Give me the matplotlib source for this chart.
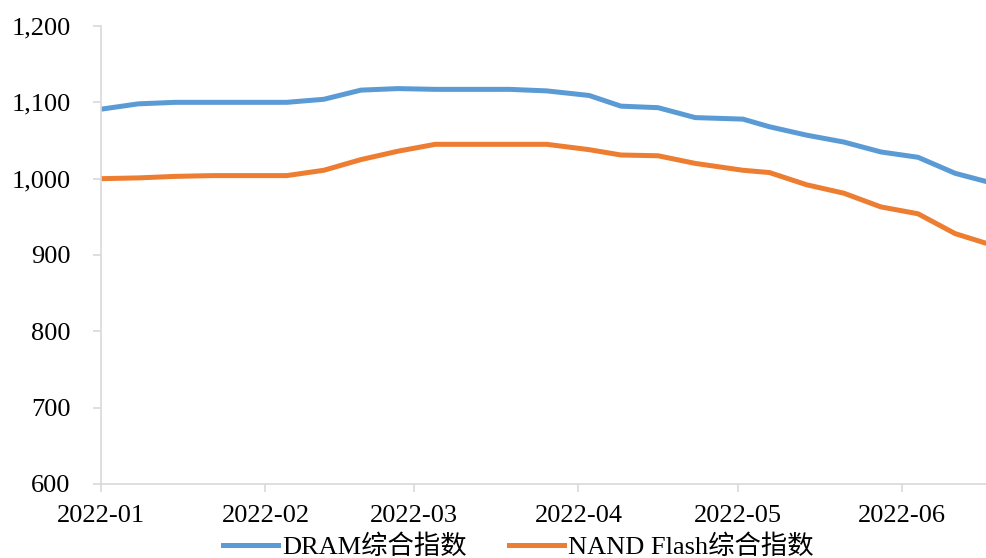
import matplotlib
matplotlib.use("Agg")
import matplotlib.pyplot as plt
from matplotlib.ticker import FuncFormatter
import numpy as np
from datetime import datetime

# weekly index readings
dates = ["2022-01-01", "2022-01-08", "2022-01-15", "2022-01-22", "2022-01-29",
         "2022-02-05", "2022-02-12", "2022-02-19", "2022-02-26", "2022-03-05",
         "2022-03-12", "2022-03-19", "2022-03-26", "2022-04-03", "2022-04-09",
         "2022-04-16", "2022-04-23", "2022-05-02", "2022-05-07", "2022-05-14",
         "2022-05-21", "2022-05-28", "2022-06-04", "2022-06-11", "2022-06-17"]
dram = [1091, 1098, 1100, 1100, 1100, 1100, 1104, 1116, 1118, 1117,
        1117, 1117, 1115, 1109, 1095, 1093, 1080, 1078, 1068, 1057,
        1048, 1035, 1028, 1007, 996]
nand = [1000, 1001, 1003, 1004, 1004, 1004, 1011, 1025, 1036, 1045,
        1045, 1045, 1045, 1038, 1031, 1030, 1020, 1011, 1008, 992,
        981, 963, 954, 928, 915]
series_names = ["DRAM综合指数", "NAND Flash综合指数"]
month_ticks = ["2022-01-01", "2022-02-01", "2022-03-01", "2022-04-01",
               "2022-05-01", "2022-06-01"]
month_labels = ["2022-01", "2022-02", "2022-03", "2022-04", "2022-05", "2022-06"]

x = [datetime.strptime(d, "%Y-%m-%d") for d in dates]
xt = [datetime.strptime(d, "%Y-%m-%d") for d in month_ticks]

plt.rcParams['font.family'] = ['Liberation Serif', 'Noto Sans CJK SC']

fig = plt.figure(figsize=(9.87, 5.58), dpi=100)
ax = fig.add_axes([101/987, 1 - 484/558, 1 - 101/987, (484 - 26)/558])

ax.plot(x, dram, color="#5B9BD5", lw=3.6, solid_joinstyle="round",
        label=series_names[0])
ax.plot(x, nand, color="#ED7D31", lw=3.6, solid_joinstyle="round",
        label=series_names[1])

ax.set_xlim(x[0], x[-1])
ax.set_ylim(600, 1200)
ax.set_yticks(np.arange(600, 1201, 100))
ax.yaxis.set_major_formatter(FuncFormatter(lambda v, p: "{:,.0f}".format(v)))
ax.set_xticks(xt)
ax.set_xticklabels(month_labels)

for s in ["top", "right"]:
    ax.spines[s].set_visible(False)
for s in ["left", "bottom"]:
    ax.spines[s].set_color("#D9D9D9")
    ax.spines[s].set_linewidth(1.2)
ax.tick_params(axis="both", colors="#D9D9D9", labelcolor="black",
               labelsize=19, width=1.2)
ax.tick_params(axis="x", length=6, pad=9)
ax.tick_params(axis="y", length=6, pad=16)

fig.legend(loc="center", bbox_to_anchor=(0.525, 1 - 547/558), ncol=2,
           frameon=False, fontsize=19, handlelength=2.1, columnspacing=1.6,
           handletextpad=0.15, borderpad=0)

fig.savefig("out.png", dpi=100)
